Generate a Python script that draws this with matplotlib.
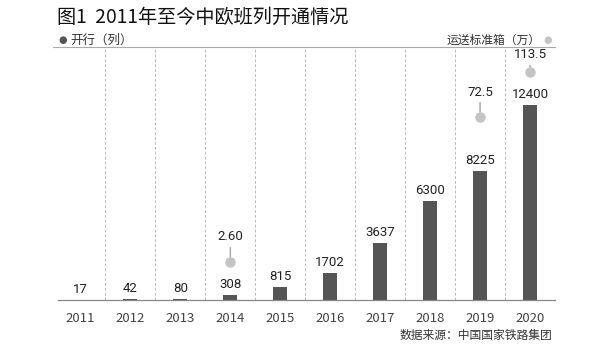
import matplotlib
matplotlib.use("Agg")
import matplotlib.pyplot as plt
import numpy as np

plt.rcParams['font.family'] = ['Noto Sans CJK SC', 'DejaVu Sans']

years = ['2011', '2012', '2013', '2014', '2015', '2016', '2017', '2018', '2019', '2020']
trains = [17, 42, 80, 308, 815, 1702, 3637, 6300, 8225, 12400]
teu_years = ['2014', '2019', '2020']
teu_values = [2.60, 72.5, 113.5]
teu_labels = ['2.60', '72.5', '113.5']

title = '图1  2011年至今中欧班列开通情况'
left_legend = '开行（列）'
right_legend = '运送标准箱（万）'
source = '数据来源：中国国家铁路集团'

bar_color = '#555555'
dot_color = '#c4c4c4'
grid_color = '#bbbbbb'
text_color = '#222222'
label_offsets = [18, 18, 12.5]  # points, style only

fig = plt.figure(figsize=(5.89, 3.53), dpi=100)
ax = fig.add_axes([58/589, 1-300/353, (555-58)/589, (300-47)/353])
x = list(range(len(years)))
ax.bar(x, trains, width=0.28, color=bar_color, zorder=3)
ax.set_xlim(-0.45, len(years) - 0.5)
ax.set_ylim(0, 16090)

for xi, v in zip(x, trains):
    ax.annotate(str(v), (xi, v), xytext=(0, 3), textcoords='offset points',
                ha='center', va='bottom', fontsize=9.5, color=text_color,
                family=['Roboto', 'DejaVu Sans'])

for xi in x[:-1]:
    ax.axvline(xi + 0.5, color=grid_color, lw=0.7, ls=(0, (3, 2)), zorder=1)

for s in ['left', 'right', 'top']:
    ax.spines[s].set_visible(False)
ax.spines['bottom'].set_color('#888888')
ax.spines['bottom'].set_linewidth(0.9)
ax.set_yticks([])
ax.set_xticks(x)
ax.set_xticklabels(years, fontsize=9.5, color='#444444')
ax.tick_params(axis='x', length=0, pad=9)

# top line
ax.plot([-0.55, len(years) - 0.5], [16090, 16090], color='#aaaaaa', lw=0.8,
        clip_on=False, zorder=2)

ax2 = ax.twinx()
fwd = lambda v: np.sign(v) * np.sqrt(np.abs(v))
inv = lambda s: np.sign(s) * s ** 2
ax2.set_yscale('function', functions=(fwd, inv))
ax2.set_ylim(-0.04, 140.4)
ax2.set_yticks([])
ax2.minorticks_off()
for s in ax2.spines.values():
    s.set_visible(False)
tx = [years.index(y) for y in teu_years]
ax2.plot(tx, teu_values, 'o', ms=6.5, color=dot_color, ls='none', zorder=4)
for xi, v, lab, off in zip(tx, teu_values, teu_labels, label_offsets):
    ax2.annotate(lab, (xi, v), xytext=(0, off), textcoords='offset points',
                 ha='center', va='center', fontsize=9.5, color=text_color,
                 family=['Roboto', 'DejaVu Sans'],
                 arrowprops=dict(arrowstyle='-', color='#aaaaaa', lw=1.1,
                                 shrinkA=1, shrinkB=3.5))

fig.text(57/589, 1-17/353, title, fontsize=13.8, color='#111111', va='center', ha='left')
fig.text(63/589, 1-40/353, '●', fontsize=7, color=bar_color, va='center', ha='center',
         family=['DejaVu Sans'])
fig.text(70/589, 1-40/353, left_legend, fontsize=9, color='#333333', va='center', ha='left')
fig.text(541/589, 1-40/353, right_legend, fontsize=8.5, color='#333333', va='center', ha='right')
fig.text(548/589, 1-40/353, '●', fontsize=7, color=dot_color, va='center', ha='center',
         family=['DejaVu Sans'])
fig.text(552/589, 1-335/353, source, fontsize=8.5, color='#333333', va='center', ha='right')

fig.savefig('out.png', dpi=100, facecolor='white')
